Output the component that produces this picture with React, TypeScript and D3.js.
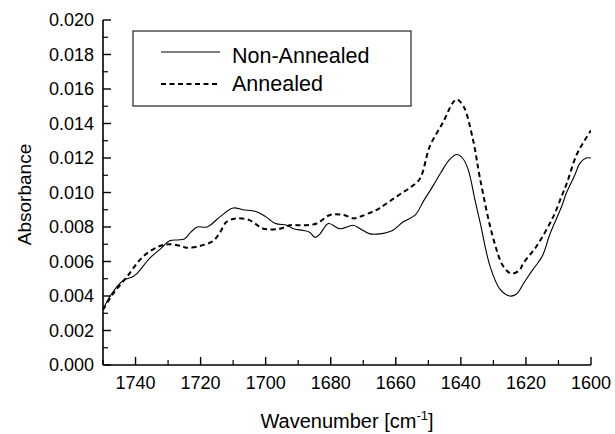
import React from "react";
import * as d3 from "d3";

const nonAnnealedWn = [1750, 1747.8, 1743.8, 1741, 1739.6, 1735.6, 1732.5, 1729.5, 1727, 1725, 1723, 1721, 1718, 1714, 1710, 1707, 1703, 1700, 1697, 1693.5, 1691.5, 1688.4, 1686.5, 1684.8, 1683.3, 1680.7, 1677.2, 1673.1, 1671, 1668, 1665, 1661, 1657.7, 1654, 1651.5, 1648.5, 1646, 1643.5, 1641.3, 1639.5, 1637.7, 1635.7, 1634, 1631, 1628, 1625, 1623, 1620.5, 1618, 1615, 1612.6, 1609, 1607.5, 1605, 1603.4, 1601.5, 1600];
const nonAnnealedAbs = [0.0032, 0.0040, 0.0049, 0.0051, 0.0053, 0.0062, 0.0067, 0.0072, 0.00725, 0.0073, 0.0077, 0.0080, 0.0080, 0.0086, 0.0091, 0.0090, 0.0089, 0.0086, 0.0082, 0.0081, 0.0079, 0.0078, 0.0077, 0.0074, 0.0076, 0.0082, 0.0079, 0.0081, 0.0079, 0.0076, 0.0076, 0.0078, 0.0083, 0.0087, 0.0095, 0.0104, 0.0112, 0.0119, 0.0122, 0.0120, 0.0113, 0.0096, 0.0082, 0.0057, 0.0044, 0.0040, 0.0041, 0.0048, 0.0055, 0.0063, 0.0076, 0.0092, 0.0100, 0.0110, 0.0117, 0.0120, 0.0120];

const annealedWn = [1750, 1747, 1742.7, 1737.6, 1732.5, 1729.4, 1726, 1724.3, 1720.2, 1716.1, 1714, 1712, 1709, 1705, 1702.5, 1700.7, 1695.6, 1692.5, 1688.4, 1684.3, 1680.2, 1676.1, 1673, 1671, 1667, 1664.9, 1661.8, 1658.7, 1655.5, 1652.6, 1649.5, 1645.4, 1642.5, 1641.3, 1639.2, 1636.2, 1634.1, 1630, 1626.9, 1624.4, 1622, 1620.8, 1616.7, 1611.6, 1609, 1607.5, 1604.4, 1602, 1600];
const annealedAbs = [0.0032, 0.0041, 0.0051, 0.0063, 0.0069, 0.0070, 0.0069, 0.0068, 0.0069, 0.0072, 0.0077, 0.0083, 0.0085, 0.0084, 0.0081, 0.0079, 0.0079, 0.0081, 0.0081, 0.0082, 0.0087, 0.0087, 0.0085, 0.0086, 0.0089, 0.0091, 0.0095, 0.0099, 0.0103, 0.0108, 0.0127, 0.0141, 0.0152, 0.0154, 0.0150, 0.0130, 0.0108, 0.0073, 0.0057, 0.0053, 0.0055, 0.0059, 0.0069, 0.0086, 0.0098, 0.0105, 0.0122, 0.0130, 0.0136];

const xMajorTicks = [1740, 1720, 1700, 1680, 1660, 1640, 1620, 1600];
const xMinorTicks = [1750, 1730, 1710, 1690, 1670, 1650, 1630, 1610];
const yMajorTicks = [0, 0.002, 0.004, 0.006, 0.008, 0.01, 0.012, 0.014, 0.016, 0.018, 0.02];
const yMinorTicks = [0.001, 0.003, 0.005, 0.007, 0.009, 0.011, 0.013, 0.015, 0.017, 0.019];
const seriesNames = ["Non-Annealed", "Annealed"];

export default function App() {
  const W = 615, H = 434;
  const left = 103, right = 591, top = 20, bottom = 365;
  const x = d3.scaleLinear().domain([1750, 1600]).range([left, right]);
  const y = d3.scaleLinear().domain([0, 0.02]).range([bottom, top]);
  const line = d3.line<[number, number]>().x(d => x(d[0])).y(d => y(d[1])).curve(d3.curveCatmullRom.alpha(0.5));
  const solidPts = nonAnnealedWn.map((w, i) => [w, nonAnnealedAbs[i]] as [number, number]);
  const dashPts = annealedWn.map((w, i) => [w, annealedAbs[i]] as [number, number]);
  const fmt = d3.format(".3f");
  const font = "Arial, 'Liberation Sans', Helvetica, sans-serif";
  return (
    <svg width={W} height={H} style={{ position: "absolute", left: 0, top: 0, background: "#fff" }} fontFamily={font}>
      <rect x={0} y={0} width={W} height={H} fill="#fff" />
      <clipPath id="clip"><rect x={left} y={top - 5} width={right - left} height={bottom - top + 5} /></clipPath>
      <g clipPath="url(#clip)">
        <path d={line(solidPts) || ""} fill="none" stroke="#000" strokeWidth={1.1} />
        <path d={line(dashPts) || ""} fill="none" stroke="#000" strokeWidth={2} strokeDasharray="5,3.5" />
      </g>
      <line x1={left} x2={left} y1={top} y2={bottom} stroke="#000" strokeWidth={1.6} />
      <line x1={left} x2={right} y1={bottom} y2={bottom} stroke="#000" strokeWidth={1.6} />
      {yMajorTicks.map(t => (
        <g key={"ym" + t}>
          <line x1={left} x2={left + 8} y1={y(t)} y2={y(t)} stroke="#000" strokeWidth={1.4} />
          <text x={left - 9} y={y(t)} dy="0.36em" textAnchor="end" fontSize={18}>{fmt(t)}</text>
        </g>
      ))}
      {yMinorTicks.map(t => (
        <line key={"yn" + t} x1={left} x2={left + 5} y1={y(t)} y2={y(t)} stroke="#000" strokeWidth={1.2} />
      ))}
      {xMajorTicks.map(t => (
        <g key={"xm" + t}>
          <line x1={x(t)} x2={x(t)} y1={bottom} y2={bottom - 8} stroke="#000" strokeWidth={1.4} />
          <text x={x(t)} y={bottom + 24} textAnchor="middle" fontSize={18}>{t}</text>
        </g>
      ))}
      {xMinorTicks.map(t => (
        <line key={"xn" + t} x1={x(t)} x2={x(t)} y1={bottom} y2={bottom - 5} stroke="#000" strokeWidth={1.2} />
      ))}
      <text x={(left + right) / 2} y={428} textAnchor="middle" fontSize={20}>
        Wavenumber [cm<tspan dy={-8} fontSize={13}>-1</tspan><tspan dy={8}>]</tspan>
      </text>
      <text transform={`translate(31,${(top + bottom) / 2 + 2}) rotate(-90)`} textAnchor="middle" fontSize={19}>Absorbance</text>
      <rect x={133} y={31} width={278} height={75} fill="#fff" stroke="#222" strokeWidth={1.2} />
      <line x1={161} x2={220} y1={52} y2={52} stroke="#000" strokeWidth={1.1} />
      <line x1={161} x2={220} y1={84} y2={84} stroke="#000" strokeWidth={2} strokeDasharray="5,3.5" />
      <text x={232} y={63} fontSize={21.5}>{seriesNames[0]}</text>
      <text x={232} y={91} fontSize={21.5}>{seriesNames[1]}</text>
    </svg>
  );
}
